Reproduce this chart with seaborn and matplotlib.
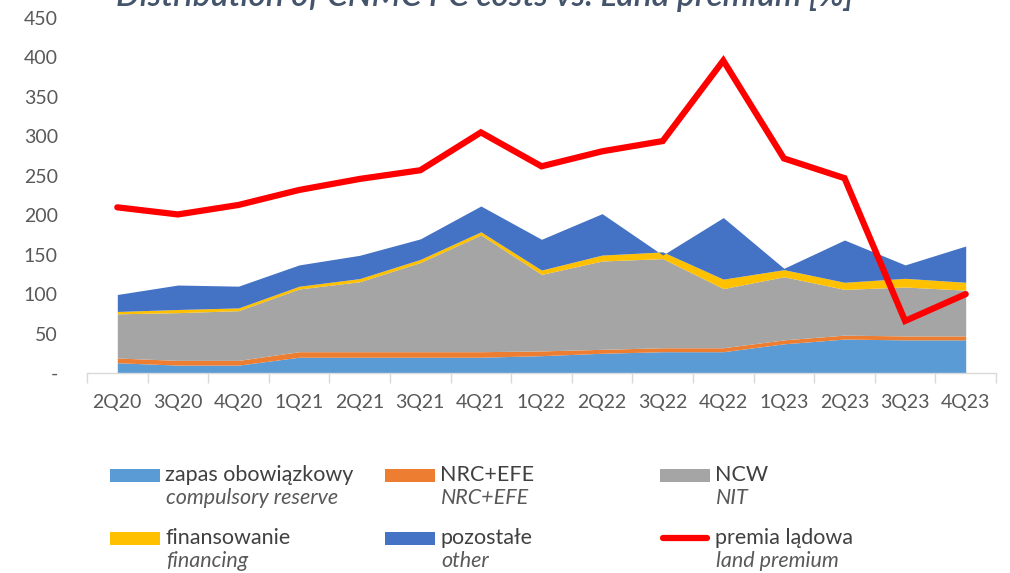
import numpy as np
import pandas as pd
import matplotlib.pyplot as plt
import seaborn as sns
from matplotlib.patches import Rectangle
from matplotlib.lines import Line2D

quarters = ['2Q20', '3Q20', '4Q20', '1Q21', '2Q21', '3Q21', '4Q21', '1Q22',
            '2Q22', '3Q22', '4Q22', '1Q23', '2Q23', '3Q23', '4Q23']
compulsory_reserve = [13, 10, 10, 20, 20, 20, 20, 22, 25, 27, 27, 37, 43, 42, 42]
nrc_efe = [6, 6, 6, 7, 7, 7, 7, 6, 5, 5, 5, 5, 5, 5, 5]
ncw = [56, 60.5, 63, 79.5, 88.7, 113, 148, 97, 112, 113, 75, 80, 58, 62, 58]
financing = [3, 4, 3.5, 3.5, 4, 4, 4, 5.5, 7.5, 8.5, 12, 9, 9, 11, 10]
other = [21.5, 31, 27.6, 27, 29.5, 26, 32.7, 39, 52.5, -4, 78, 1.7, 53.6, 17, 46]
land_premium = [210, 201, 213, 232, 246, 257, 305, 262, 281, 294, 396, 272, 247, 66, 100]

y_ticks = [0, 50, 100, 150, 200, 250, 300, 350, 400, 450]
y_tick_labels = ['-', '50', '100', '150', '200', '250', '300', '350', '400', '450']

legend_pl = ['zapas obowiązkowy', 'NRC+EFE', 'NCW', 'finansowanie', 'pozostałe', 'premia lądowa']
legend_en = ['compulsory reserve', 'NRC+EFE', 'NIT', 'financing', 'other', 'land premium']
colors = ['#5B9BD5', '#ED7D31', '#A5A5A5', '#FFC000', '#4472C4', '#FF0000']

sns.set_theme(style='white')
plt.rcParams['font.family'] = ['Lato', 'DejaVu Sans']

df = pd.DataFrame({'quarter': quarters, 'pos': np.arange(len(quarters)),
                   'premium': land_premium})

fig = plt.figure(figsize=(10.1, 5.73), dpi=100)
ax = fig.add_axes([87 / 1010, 1 - 373 / 573, (996 - 87) / 1010, (373 - 18) / 573])

ax.stackplot(df['pos'], compulsory_reserve, nrc_efe, ncw, financing, other,
             colors=colors[:5], linewidth=0)
sns.lineplot(data=df, x='pos', y='premium', color=colors[5], linewidth=4.5,
             ax=ax, solid_capstyle='round', solid_joinstyle='miter')

ax.set_xlim(-0.5, len(quarters) - 0.5)
ax.set_ylim(0, 450)
ax.set_xlabel('')
ax.set_ylabel('')
ax.set_xticks(df['pos'])
ax.set_xticklabels(quarters)
ax.set_xticks(np.arange(-0.5, len(quarters)), minor=True)
ax.set_yticks(y_ticks)
ax.set_yticklabels(y_tick_labels)
ax.tick_params(axis='x', which='major', length=0, pad=15, labelsize=14, labelcolor='#595959')
ax.tick_params(axis='x', which='minor', length=7, width=1, color='#D9D9D9', direction='out', bottom=True)
ax.tick_params(axis='y', length=0, pad=21, labelsize=14, labelcolor='#595959')
for side in ['top', 'right', 'left']:
    ax.spines[side].set_visible(False)
ax.spines['bottom'].set_color('#D9D9D9')
ax.spines['bottom'].set_linewidth(1)
ax.grid(False)

fig.text(485 / 1010, 1 - 6 / 573, 'Distribution of CNMC PC costs vs. Land premium [%]',
         ha='center', va='baseline', fontsize=24, style='italic', weight='semibold',
         color='#44546A')

# legend drawn by hand to follow the two-line layout
col_x = [110, 385, 660]
row_y = [475, 538]
for i in range(6):
    px = col_x[i % 3]
    py = row_y[i // 3]
    if i < 5:
        fig.add_artist(Rectangle((px / 1010, 1 - (py + 6.5) / 573), 50 / 1010, 13 / 573,
                                 transform=fig.transFigure, color=colors[i], linewidth=0))
    else:
        fig.add_artist(Line2D([(px + 3) / 1010, (px + 47) / 1010], [1 - py / 573, 1 - py / 573],
                              transform=fig.transFigure, color=colors[i], linewidth=4.5,
                              solid_capstyle='round'))
    fig.text((px + 55) / 1010, 1 - py / 573, legend_pl[i], ha='left', va='center',
             fontsize=15.5, color='#404040')
    fig.text((px + 56) / 1010, 1 - (py + 23) / 573, legend_en[i], ha='left', va='center',
             fontsize=15.5, style='italic', color='#595959')

fig.savefig('out.png', dpi=100)
